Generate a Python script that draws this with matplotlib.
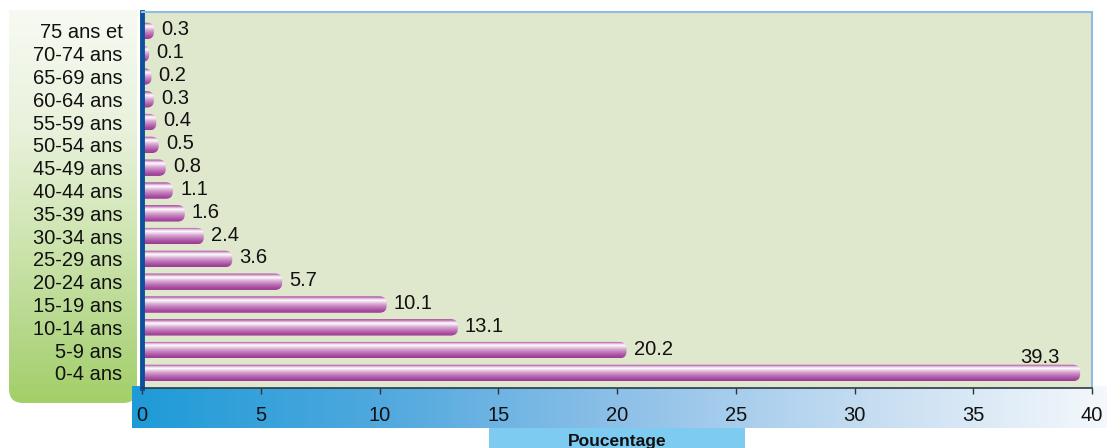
import numpy as np
import matplotlib
matplotlib.use("Agg")
import matplotlib.pyplot as plt
from matplotlib.patches import FancyBboxPatch, Rectangle
from matplotlib.colors import LinearSegmentedColormap

plt.rcParams["font.family"] = ["Liberation Sans", "DejaVu Sans"]

# Age groups (bottom to top) and share of population in percent
categories = ["0-4 ans", "5-9 ans", "10-14 ans", "15-19 ans", "20-24 ans",
              "25-29 ans", "30-34 ans", "35-39 ans", "40-44 ans", "45-49 ans",
              "50-54 ans", "55-59 ans", "60-64 ans", "65-69 ans", "70-74 ans",
              "75 ans et"]
values = [39.3, 20.2, 13.1, 10.1, 5.7, 3.6, 2.4, 1.6, 1.1, 0.8,
          0.5, 0.4, 0.3, 0.2, 0.1, 0.3]
xticks = [0, 5, 10, 15, 20, 25, 30, 35, 40]
xlabel = "Poucentage"

W, H = 1107, 448
FS = 14.5
fig = plt.figure(figsize=(W / 100, H / 100), dpi=100)


def fx(px):
    return px / W


def fy(py):
    return 1 - py / H


# Background layer in pixel coordinates
panel = fig.add_axes([0, 0, 1, 1], zorder=0)
panel.set_xlim(0, W)
panel.set_ylim(H, 0)
panel.axis("off")

# Left label panel: light-to-green vertical gradient with rounded bottom corners
green = LinearSegmentedColormap.from_list(
    "g", [(0, "#f7faf2"), (0.3, "#e9f2dc"), (0.6, "#cde4ae"), (0.85, "#b2d685"), (1, "#a3cf68")])
grad = np.linspace(0, 1, 256).reshape(-1, 1)
pbox = FancyBboxPatch((9, -20), 128, 423, boxstyle="round,pad=0,rounding_size=14",
                      facecolor="none", edgecolor="none")
panel.add_patch(pbox)
im = panel.imshow(grad, cmap=green, aspect="auto", extent=(9, 137, 403, 10), zorder=1)
im.set_clip_path(pbox)

# Horizontal axis band: blue fading to white
blue = LinearSegmentedColormap.from_list(
    "b", ["#1e9bd7", "#4fa8de", "#8dc0e8", "#c4dcf1", "#f4f8fc"])
hgrad = np.linspace(0, 1, 256).reshape(1, -1)
panel.imshow(hgrad, cmap=blue, aspect="auto", extent=(132, 1107, 428, 386), zorder=2)

# Title box for the x axis
panel.add_patch(Rectangle((489, 428), 256, 20, facecolor="#7ecbf1", edgecolor="none", zorder=2))
panel.text(617, 441.5, xlabel, ha="center", va="center", fontsize=12.5,
           fontweight="bold", color="#111111", zorder=3)

# Main plot area
ax = fig.add_axes([fx(142), fy(388), fx(1092) - fx(142), fy(12) - fy(388)], zorder=2)
ax.set_facecolor("#dfe7cd")
ylo, yhi = -0.66, len(categories) - 0.17

ypos = np.arange(len(categories))
bar_h = 0.72
cap = 0.2
tube = LinearSegmentedColormap.from_list(
    "tube", [(0.0, "#983a92"), (0.15, "#a84ea2"), (0.35, "#c17ab9"), (0.55, "#dbaed6"),
             (0.68, "#f2e2f0"), (0.75, "#ffffff"), (0.85, "#e2c0de"), (0.94, "#b562ab"),
             (1.0, "#9c4496")])
vgrad = np.linspace(0, 1, 128).reshape(-1, 1)
for y, v in zip(ypos, values):
    patch = FancyBboxPatch((-0.6, y - bar_h / 2), v + 0.6 + cap, bar_h,
                           boxstyle="round,pad=0,rounding_size=0.3",
                           facecolor="none", edgecolor="none")
    ax.add_patch(patch)
    img = ax.imshow(vgrad, cmap=tube, aspect="auto",
                    extent=(-0.6, v + cap, y + bar_h / 2, y - bar_h / 2), zorder=2)
    img.set_clip_path(patch)
    if v > 35:
        ax.text(v - 0.65, y + 0.66, f"{v:.1f}", ha="right", va="center",
                fontsize=FS, color="#111111", zorder=3)
    else:
        ax.text(v + cap + 0.3, y + 0.05, f"{v:.1f}", ha="left", va="center",
                fontsize=FS, color="#111111", zorder=3)

ax.set_xlim(0, 40)
ax.set_ylim(ylo, yhi)
ax.set_yticks(ypos)
ax.set_yticklabels(categories, fontsize=FS, color="#111111")
ax.tick_params(axis="y", length=0, pad=14)
ax.set_xticks(xticks)
ax.set_xticklabels([str(t) for t in xticks], fontsize=FS, color="#111111")
ax.tick_params(axis="x", length=4, width=1, color="#333333", pad=9)

for s in ["top", "right"]:
    ax.spines[s].set_color("#8fbce4")
    ax.spines[s].set_linewidth(1.5)
ax.spines["left"].set_color("#0d4f9a")
ax.spines["left"].set_linewidth(3.5)
ax.spines["bottom"].set_color("#2a3a4a")
ax.spines["bottom"].set_linewidth(1.2)

fig.savefig("out.png", dpi=100)
